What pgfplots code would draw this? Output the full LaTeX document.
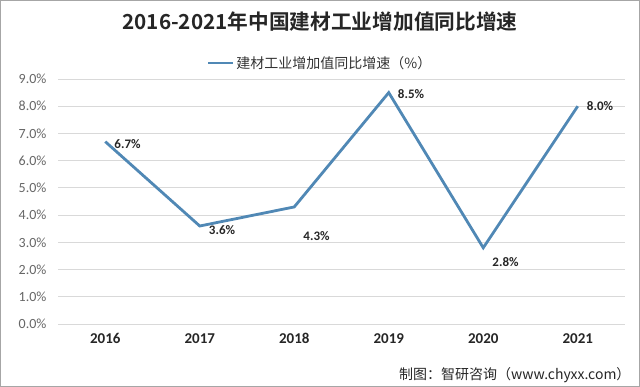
\documentclass[border=0pt]{standalone}
\usepackage{pgfplots}
\pgfplotsset{compat=1.18}
\usepackage{pgfplotstable}
\usepackage{fontspec}
\setmainfont{Carlito}
\newfontfamily\cjk{Noto Sans CJK SC}
\newfontfamily\cjkb{Noto Sans CJK SC Bold}
\definecolor{linec}{HTML}{5088B5}
\definecolor{gridc}{HTML}{D9D9D9}
\definecolor{tickc}{HTML}{666666}
\definecolor{titlec}{HTML}{262626}
\pgfplotstableread{
x y dy
0 6.7 -2
1 3.6 -4
2 4.3 -29
3 8.5 -1
4 2.8 -14
5 8.0 0
}\datatab
\begin{document}
\begin{tikzpicture}
\path[use as bounding box] (0,0) rectangle (640bp,387bp);
\draw[color=gray!70, line width=0.8bp] (0.5bp,0.5bp) rectangle (639.5bp,386.5bp);
\node[font=\cjkb\fontsize{20.7bp}{24bp}\selectfont, text=titlec] at (320bp,365bp) {2016-2021年中国建材工业增加值同比增速};
\node[font=\cjk\fontsize{14bp}{16bp}\selectfont, text=black!85, anchor=east] at (634bp,12bp) {制图：智研咨询（www.chyxx.com）};
\begin{axis}[
  at={(58bp,63bp)}, anchor=south west,
  scale only axis, width=567bp, height=245bp,
  xmin=-0.5, xmax=5.5, ymin=0, ymax=9,
  xtick={0,1,2,3,4,5},
  xticklabels={2016,2017,2018,2019,2020,2021},
  ytick={0,1,...,9},
  yticklabel={\pgfmathprintnumber[fixed,fixed zerofill,precision=1]{\tick}\%},
  /pgf/number format/assume math mode=true,
  ymajorgrids, grid style={gridc, line width=0.8bp},
  axis y line*=left, axis x line*=bottom,
  y axis line style={draw=none},
  x axis line style={gridc, line width=0.8bp, -},
  major tick length=0pt,
  yticklabel style={font=\fontsize{14bp}{16bp}\selectfont, text=tickc, xshift=-8bp},
  xticklabel style={font=\bfseries\fontsize{15bp}{17bp}\selectfont, text=black!85, yshift=-6bp},
  legend style={at={(0.462,1.065)}, anchor=center, draw=none, fill=none,
    font=\cjk\fontsize{14bp}{16bp}\selectfont, text=black!80},
  legend image code/.code={\draw[#1, line width=2.8bp] (0bp,0bp) -- (25bp,0bp);},
  clip=false,
]
\addplot[color=linec, line width=2.8bp, mark=none] table[x=x,y=y] {\datatab};
\addlegendentry{建材工业增加值同比增速（\%）}
\addplot[draw=none, mark=none, forget plot,
  visualization depends on={\thisrow{dy} \as \dyv},
  nodes near coords={\pgfmathprintnumber[fixed,fixed zerofill,precision=1]{\pgfplotspointmeta}\%},
  point meta=explicit,
  every node near coord/.append style={anchor=west, xshift=8bp, yshift=\dyv bp,
    font=\bfseries\fontsize{13bp}{15bp}\selectfont, text=black!85, inner sep=1bp},
] table[x=x,y=y,meta=y] {\datatab};
\end{axis}
\end{tikzpicture}
\end{document}
